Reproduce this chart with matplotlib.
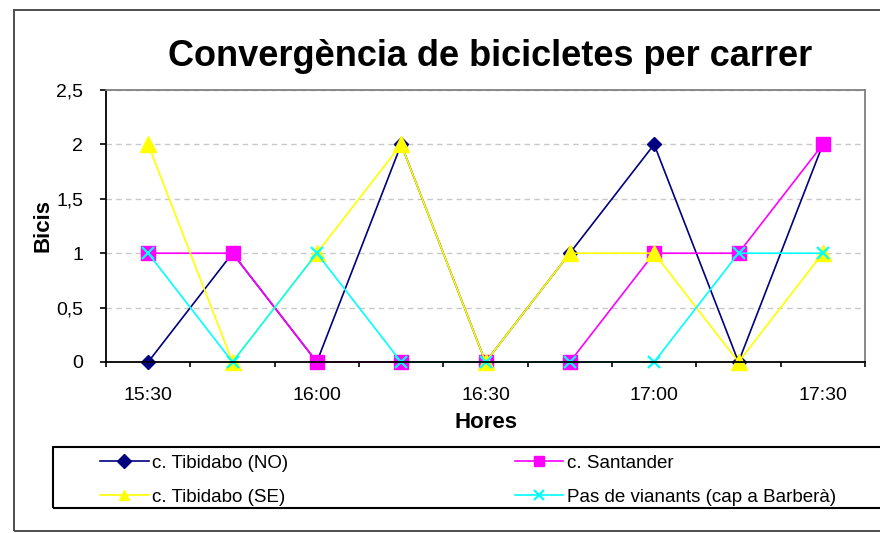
import matplotlib.pyplot as plt
from matplotlib.patches import Rectangle

plt.rcParams['font.family'] = ['Liberation Sans', 'DejaVu Sans']

# --- DATA ---
hores = ['15:30', '15:45', '16:00', '16:15', '16:30', '16:45', '17:00', '17:15', '17:30']
tibidabo_no = [0, 1, 0, 2, 0, 1, 2, 0, 2]
santander = [1, 1, 0, 0, 0, 0, 1, 1, 2]
tibidabo_se = [2, 0, 1, 2, 0, 1, 1, 0, 1]
vianants = [1, 0, 1, 0, 0, 0, 0, 1, 1]

series = [
    ('c. Tibidabo (NO)', tibidabo_no, '#000080', 'D', 7.5),
    ('c. Santander', santander, '#FF00FF', 's', 10.5),
    ('c. Tibidabo (SE)', tibidabo_se, '#FFFF00', '^', 11),
    ('Pas de vianants (cap a Barberà)', vianants, '#00FFFF', 'x', 9),
]

fig = plt.figure(figsize=(8.8, 5.33), dpi=100)
ax = fig.add_axes([106 / 880, 1 - 362 / 533, (865 - 106) / 880, (362 - 90) / 533])

x = list(range(len(hores)))
handles = {}
for name, vals, col, mk, ms in series:
    mew = 1.6 if mk == 'x' else 1
    h, = ax.plot(x, vals, color=col, linewidth=1.2, marker=mk, markersize=ms,
                 markeredgewidth=mew, label=name, clip_on=False)
    handles[name] = h

ax.set_xlim(-0.5, len(hores) - 0.5)
ax.set_ylim(0, 2.5)
ax.set_yticks([0, 0.5, 1, 1.5, 2, 2.5])
ax.set_yticklabels(['0', '0,5', '1', '1,5', '2', '2,5'], fontsize=14)
ax.set_xticks([i - 0.5 for i in range(len(hores) + 1)])
ax.set_xticklabels([])
ax.set_xticks(x[::2], minor=True)
ax.set_xticklabels(hores[::2], minor=True, fontsize=14)
ax.tick_params(axis='x', which='minor', length=0, pad=18)
ax.tick_params(axis='x', which='major', length=3.5, direction='out', width=1.2)
ax.tick_params(axis='y', length=4.5, direction='out', width=1.2, pad=12)

ax.grid(axis='y', linestyle=(0, (4, 3)), color='#c8c8c8', linewidth=1)
ax.set_axisbelow(True)
for s in ['left', 'bottom']:
    ax.spines[s].set_color('black')
    ax.spines[s].set_linewidth(1.3)
for s in ['top', 'right']:
    ax.spines[s].set_color('#808080')
    ax.spines[s].set_linewidth(1.3)

ax.set_ylabel('Bicis', fontsize=16, fontweight='bold', labelpad=2)
ax.set_xlabel('Hores', fontsize=16, fontweight='bold', labelpad=6)

fig.text(490 / 880, 1 - 56 / 533, 'Convergència de bicicletes per carrer',
         ha='center', va='center', fontsize=26, fontweight='bold')

# legend: fills column by column, frame drawn separately (runs off the right edge)
order = ['c. Tibidabo (NO)', 'c. Tibidabo (SE)', 'c. Santander', 'Pas de vianants (cap a Barberà)']
leg = fig.legend([handles[n] for n in order], order, ncol=2,
                 bbox_to_anchor=(100 / 880, 1 - 480 / 533), loc='center left',
                 fontsize=13.5, frameon=False, handlelength=2.6, borderpad=0,
                 borderaxespad=0, labelspacing=0.9, handletextpad=0.2, columnspacing=12.05)
for lh in leg.legend_handles:
    lh.set_markersize(7)

fig.patches.append(Rectangle((53 / 880, 1 - 508 / 533), 1.0, (508 - 447) / 533,
                             transform=fig.transFigure, fill=False, edgecolor='black',
                             linewidth=1.5, clip_on=False))
fig.patches.append(Rectangle((14 / 880, 1 - 531 / 533), 1.0, (531 - 10) / 533,
                             transform=fig.transFigure, fill=False, edgecolor='#404040',
                             linewidth=1.3, clip_on=False))

fig.savefig('out.png', dpi=100)
